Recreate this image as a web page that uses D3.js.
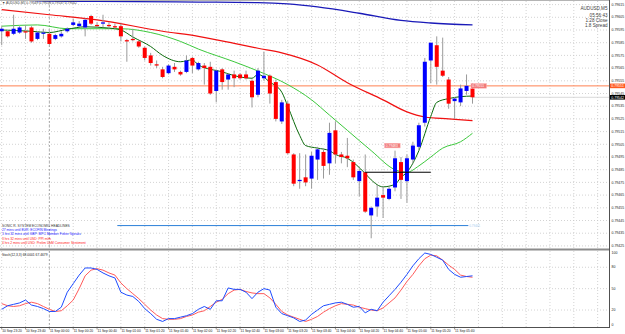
<!DOCTYPE html>
<html><head><meta charset="utf-8">
<script src="https://cdn.jsdelivr.net/npm/d3@7"></script>
<style>html,body{margin:0;padding:0;background:#fff;overflow:hidden}svg{display:block}text{font-family:"Liberation Sans",Arial,sans-serif}</style>
</head><body><svg id="c" width="625" height="334"></svg>
<script>
// ---------- data ----------
const opens  = [0.79594,0.79594,0.79592,0.79593,0.79594,0.79597,0.79588,0.79592,0.79592,0.79588,0.79590,0.79594,0.79599,0.79598,0.79597,0.79606,0.79599,0.79600,0.79599,0.79598,0.79598,0.79587,0.79588,0.79586,0.79581,0.79575,0.79568,0.79564,0.79561,0.79566,0.79562,0.79562,0.79573,0.79564,0.79567,0.79566,0.79547,0.79564,0.79556,0.79560,0.79560,0.79560,0.79555,0.79544,0.79557,0.79559,0.79554,0.79523,0.79537,0.79497,0.79476,0.79479,0.79478,0.79493,0.79499,0.79490,0.79516,0.79497,0.79496,0.79491,0.79476,0.79483,0.79449,0.79456,0.79465,0.79462,0.79471,0.79491,0.79476,0.79493,0.79503,0.79522,0.79571,0.79583,0.79563,0.79556,0.79539,0.79538,0.79547,0.79549];
const highs  = [0.79598,0.79595,0.79607,0.79598,0.79599,0.79598,0.79594,0.79596,0.79594,0.79592,0.79594,0.79597,0.79604,0.79602,0.79604,0.79607,0.79601,0.79607,0.79601,0.79600,0.79600,0.79588,0.79596,0.79587,0.79582,0.79577,0.79571,0.79566,0.79568,0.79569,0.79563,0.79575,0.79574,0.79570,0.79569,0.79570,0.79564,0.79565,0.79561,0.79563,0.79561,0.79563,0.79556,0.79565,0.79578,0.79560,0.79556,0.79540,0.79539,0.79498,0.79498,0.79497,0.79499,0.79503,0.79502,0.79522,0.79523,0.79499,0.79510,0.79493,0.79486,0.79497,0.79456,0.79473,0.79472,0.79472,0.79500,0.79495,0.79497,0.79507,0.79522,0.79573,0.79585,0.79590,0.79589,0.79558,0.79542,0.79552,0.79560,0.79553];
const lows   = [0.79583,0.79589,0.79591,0.79592,0.79588,0.79585,0.79587,0.79588,0.79583,0.79587,0.79589,0.79593,0.79598,0.79597,0.79590,0.79599,0.79597,0.79597,0.79596,0.79596,0.79586,0.79570,0.79586,0.79581,0.79571,0.79567,0.79565,0.79557,0.79560,0.79562,0.79559,0.79561,0.79561,0.79563,0.79552,0.79544,0.79538,0.79548,0.79548,0.79550,0.79556,0.79556,0.79534,0.79542,0.79555,0.79537,0.79523,0.79521,0.79497,0.79472,0.79470,0.79472,0.79470,0.79477,0.79478,0.79481,0.79490,0.79490,0.79487,0.79477,0.79464,0.79451,0.79431,0.79448,0.79447,0.79461,0.79468,0.79462,0.79459,0.79490,0.79500,0.79519,0.79553,0.79552,0.79558,0.79533,0.79525,0.79535,0.79544,0.79537];
const closes = [0.79596,0.79590,0.79596,0.79597,0.79593,0.79586,0.79593,0.79593,0.79584,0.79591,0.79592,0.79596,0.79601,0.79600,0.79603,0.79600,0.79598,0.79601,0.79598,0.79597,0.79590,0.79586,0.79587,0.79582,0.79573,0.79569,0.79567,0.79558,0.79567,0.79564,0.79560,0.79571,0.79567,0.79569,0.79565,0.79545,0.79563,0.79554,0.79560,0.79557,0.79557,0.79557,0.79542,0.79563,0.79559,0.79545,0.79525,0.79538,0.79498,0.79474,0.79477,0.79475,0.79496,0.79501,0.79488,0.79514,0.79497,0.79495,0.79494,0.79479,0.79484,0.79452,0.79455,0.79463,0.79463,0.79470,0.79494,0.79477,0.79494,0.79504,0.79520,0.79570,0.79585,0.79566,0.79559,0.79537,0.79541,0.79549,0.79551,0.79542];

const blueMaBars  = [0,6,16,33,43,48,53,60,67,72,79];
const blueMaVals  = [0.79622,0.79618,0.796175,0.79617,0.796166,0.796156,0.796132,0.796082,0.796025,0.796005,0.79599];
const redMaBars   = [0,8,16,27,33,39,43,47,53,58,64,68,71,75,79];
const redMaVals   = [0.79611,0.79607,0.79603,0.79594,0.79590,0.795845,0.795806,0.79577,0.795675,0.795535,0.7954,0.795305,0.795265,0.79525,0.795236];
const limeMaBars  = [0,6,11,20,25,30,33,39,43,48,52,55,58,62,66,68,70,72,74,77,79];
const limeMaVals  = [0.79598,0.79599,0.79596,0.79596,0.79593,0.79586,0.7958,0.7957,0.795627,0.79552,0.7954,0.79528,0.79516,0.795,0.79485,0.79483,0.79488,0.79495,0.79502,0.79507,0.795137];
const darkMaBars  = [0,5,8,11,14,18,20,22,25,27,30,32,33,37,40,42,43,45,47,48,50,51,53,55,56,58,61,62,64,66,67,68,70,72,73,75,77,79];
const darkMaVals  = [0.79595,0.79594,0.79593,0.795956,0.795975,0.795965,0.79595,0.795895,0.79582,0.79575,0.7957,0.795715,0.795675,0.79562,0.79558,0.79557,0.7956,0.79554,0.79546,0.79535,0.79512,0.79504,0.79502,0.795,0.79497,0.79494,0.79482,0.79477,0.794715,0.794735,0.79479,0.79483,0.795,0.79527,0.79538,0.79541,0.795425,0.79543];

const stochK = [21,26,28,30,34,27,25,22,18,18,24,45,57,69,79,79,77,72,68,65,45,41,39,32,22,15,7,4,8,8,10,12,15,21,25,21,33,33,51,49,49,45,36,45,50,48,24,15,12,9,4,6,14,20,26,28,30,31,28,24,25,16,21,19,31,40,49,59,70,82,92,100,98,94,90,77,70,66,67,68];
const stochD = [29,26,25,26,29,31,29,25,21,18,19,26,34,50,68,76,78,76,72,69,58,50,43,36,28,20,13,8,7,7,8,11,13,17,19,25,31,35,43,48,49,46,44,43,43,37,28,18,13,10,7,4,7,11,17,22,26,29,28,27,24,22,20,19,23,30,37,48,60,70,82,92,97,96,90,83,77,69,67,66];
const stochTicks = [100,80,50,20,0];

const priceTicks = [0.79615,0.79605,0.79595,0.79585,0.79575,0.79565,0.79555,0.79545,0.79535,0.79525,0.79515,0.79505,0.79495,0.79485,0.79475,0.79465,0.79455,0.79445,0.79435,0.79425];
const timeLabels = ["10 Sep 23:20","10 Sep 23:40","11 Sep 00:00","11 Sep 00:20","11 Sep 00:40","11 Sep 01:00","11 Sep 01:20","11 Sep 01:40","11 Sep 02:00","11 Sep 02:20","11 Sep 02:40","11 Sep 03:00","11 Sep 03:20","11 Sep 03:40","11 Sep 04:00","11 Sep 04:20","11 Sep 04:40","11 Sep 05:00","11 Sep 05:20","11 Sep 05:40"];
const timeLabelBars = [0,4,8,12,16,20,24,28,32,36,40,44,48,52,56,60,64,68,72,76];
const daySeparatorBar = 8;

const orangeLinePrice = 0.79551;
const bidPrice = 0.79542;
const blackLine = {price:0.79483, from:61, to:72, label:"0.79483", labelBar:65.6, labelPrice:0.79504};
const blueLine  = {price:0.79441, from:19.4, to:78.3, label:"0.79441"};
const headlines = [
  {t:"SONIC R. SYSTEM ECONOMIC HEADLINES", c:"#333333"},
  {t:"27 mins until EUR: ECOFIN Meetings", c:"#1a1aff"},
  {t:"1 hrs 32 mins until GBP: MPC Member Fisher Speaks", c:"#1a1aff"},
  {t:"3 hrs 32 mins until USD: PPI m/m", c:"#ff1a1a"},
  {t:"4 hrs 2 mins until USD: Prelim UoM Consumer Sentiment", c:"#ff1a1a"}
];
const infoLines = ["AUDUSD,M5","05:56:43","1:28 Close","1.8 Spread"];
const headerText = "\u25BC AUDUSD,M5  0.79549 0.79553 0.79537 0.79542";
const stochText = "Stoch(12,3,3) 68.0001 67.4679";

// ---------- layout ----------
const AX = 609, MAIN_T = 0, MAIN_B = 248, SUB_T = 251, SUB_B = 327;
const svg = d3.select("#c");
const x = d3.scaleLinear().domain([0,79]).range([1.7,472.5]);
const y = d3.scaleLinear().domain([0.7961862,0.7942335]).range([MAIN_T,MAIN_B]);
const ys = d3.scaleLinear().domain([0,100]).range([324.3,253]);

const defs = svg.append("defs");
defs.append("clipPath").attr("id","cm").append("rect").attr("x",0).attr("y",1).attr("width",AX).attr("height",MAIN_B-1);
defs.append("clipPath").attr("id","cs").append("rect").attr("x",0).attr("y",SUB_T).attr("width",AX).attr("height",SUB_B-SUB_T);

svg.append("rect").attr("width",625).attr("height",334).attr("fill","#fff");

// grid
const gridBars = d3.range(0,104,4).filter(i => x(i) < AX-1);
const grid = svg.append("g").attr("stroke","#c8c8c8").attr("stroke-width",0.8).attr("stroke-dasharray","1,2");
gridBars.forEach(i=>{
  grid.append("line").attr("x1",x(i)).attr("x2",x(i)).attr("y1",1).attr("y2",MAIN_B);
  grid.append("line").attr("x1",x(i)).attr("x2",x(i)).attr("y1",SUB_T).attr("y2",SUB_B);
});
priceTicks.forEach(p=>grid.append("line").attr("x1",0).attr("x2",AX).attr("y1",y(p)).attr("y2",y(p)));
[80,50,20].forEach(v=>grid.append("line").attr("x1",0).attr("x2",AX).attr("y1",ys(v)).attr("y2",ys(v)));

// day separator
[[1,MAIN_B],[SUB_T,SUB_B]].forEach(r=>svg.append("line").attr("x1",x(daySeparatorBar)).attr("x2",x(daySeparatorBar))
  .attr("y1",r[0]).attr("y2",r[1]).attr("stroke","#9a9a9a").attr("stroke-width",0.8).attr("stroke-dasharray","2,2"));

// orange line & bid line
svg.append("line").attr("x1",0).attr("x2",AX).attr("y1",y(orangeLinePrice)).attr("y2",y(orangeLinePrice)).attr("stroke","#ff8050").attr("stroke-width",1);
svg.append("line").attr("x1",x(79)).attr("x2",AX).attr("y1",y(bidPrice)).attr("y2",y(bidPrice)).attr("stroke","#d0d0d0").attr("stroke-width",0.8);

// blue & black lines
svg.append("line").attr("x1",x(blueLine.from)).attr("x2",x(blueLine.to)).attr("y1",y(blueLine.price)).attr("y2",y(blueLine.price)).attr("stroke","#2b7fd8").attr("stroke-width",1);
svg.append("text").attr("x",x(blueLine.to)+1).attr("y",y(blueLine.price)+1.1).attr("font-size",3).attr("fill","#a8cdf0").text(blueLine.label);

// MAs
const mg = svg.append("g").attr("clip-path","url(#cm)").attr("fill","none");
const line = d3.line().x(d=>x(d[0])).y(d=>y(d[1])).curve(d3.curveMonotoneX);
const ma = (bars,vals,color,w)=>mg.append("path").attr("d",line(bars.map((b,k)=>[b,vals[k]]))).attr("stroke",color).attr("stroke-width",w);
ma(blueMaBars,blueMaVals,"#1a1ab8",1.3);
ma(redMaBars,redMaVals,"#f01010",1.2);
ma(limeMaBars,limeMaVals,"#3cc83c",1);

// candles
const cg = svg.append("g").attr("clip-path","url(#cm)");
opens.forEach((o,i)=>{
  const c = closes[i], cx = x(i);
  cg.append("line").attr("x1",cx).attr("x2",cx).attr("y1",y(highs[i])).attr("y2",y(lows[i])).attr("stroke","#9a9a9a").attr("stroke-width",1);
  const top = y(Math.max(o,c)), bot = y(Math.min(o,c));
  cg.append("rect").attr("x",cx-2).attr("width",4).attr("y",top).attr("height",Math.max(1,bot-top))
    .attr("fill", c>=o ? "#0000ff" : "#ff0000");
});
ma(darkMaBars,darkMaVals,"#0a6a0a",1);

svg.append("line").attr("x1",x(blackLine.from)).attr("x2",x(blackLine.to)).attr("y1",y(blackLine.price)).attr("y2",y(blackLine.price)).attr("stroke","#000").attr("stroke-width",1);

// annotation boxes
function tag(xl, yc, txt, fill){
  svg.append("rect").attr("x",xl).attr("y",yc-2.3).attr("width",15.5).attr("height",4.6).attr("fill",fill).attr("stroke","#ffb0b0").attr("stroke-width",0.5);
  svg.append("text").attr("x",xl+1.2).attr("y",yc+1.2).attr("font-size",3.3).attr("fill","#fff").text(txt);
}
tag(x(blackLine.labelBar)-8, y(blackLine.labelPrice), blackLine.label, "#f07a7a");
tag(x(79)-1.5, y(orangeLinePrice), "0.79551", "#f07a7a");

// header texts
svg.append("text").attr("x",2).attr("y",4).attr("font-size",3.3).attr("fill","#404040").text(headerText);
infoLines.forEach((t,k)=>svg.append("text").attr("x",607.5).attr("y",[10,16.5,21.8,27][k]).attr("text-anchor","end").attr("font-size",4.6).attr("fill","#404040").text(t));
headlines.forEach((h,k)=>svg.append("text").attr("x",2).attr("y",226.8+k*4.3).attr("font-size",3.3).attr("fill",h.c).text(h.t));

// frames
svg.append("line").attr("x1",0).attr("x2",AX).attr("y1",0.5).attr("y2",0.5).attr("stroke","#b4b4b4");
svg.append("rect").attr("x",0).attr("y",MAIN_B+0.5).attr("width",AX).attr("height",2).attr("fill","#8c8c8c");
svg.append("line").attr("x1",0).attr("x2",AX+1).attr("y1",SUB_B+0.5).attr("y2",SUB_B+0.5).attr("stroke","#505050");
svg.append("line").attr("x1",AX+0.5).attr("x2",AX+0.5).attr("y1",0).attr("y2",SUB_B+1).attr("stroke","#505050");

// price axis
priceTicks.forEach(p=>svg.append("text").attr("x",611.5).attr("y",y(p)+1.2).attr("font-size",3.5).attr("fill","#222").text(p.toFixed(5)));
function axTag(p, fill){
  svg.append("rect").attr("x",610).attr("y",y(p)-2.3).attr("width",15).attr("height",4.6).attr("fill",fill);
  svg.append("text").attr("x",611.3).attr("y",y(p)+1.2).attr("font-size",3.5).attr("fill","#fff").text(p.toFixed(5));
}
axTag(orangeLinePrice,"#ff5a20");
axTag(bidPrice,"#000");

// stochastic
const sg = svg.append("g").attr("clip-path","url(#cs)").attr("fill","none");
const sl = d3.line().x((d,i)=>x(i)).y(d=>ys(d));
sg.append("path").attr("d",sl(stochD)).attr("stroke","#ff5a5a").attr("stroke-width",1);
sg.append("path").attr("d",sl(stochK)).attr("stroke","#1e4cff").attr("stroke-width",1);
svg.append("text").attr("x",2).attr("y",255.5).attr("font-size",3.3).attr("fill","#222").text(stochText);
stochTicks.forEach(v=>svg.append("text").attr("x",611.5).attr("y",ys(v)+1.2).attr("font-size",3.5).attr("fill","#222").text(v));

// time axis
timeLabelBars.forEach((b,k)=>{
  svg.append("line").attr("x1",x(b)).attr("x2",x(b)).attr("y1",SUB_B).attr("y2",SUB_B+2.5).attr("stroke","#505050").attr("stroke-width",0.6);
  svg.append("text").attr("x",x(b)+0.5).attr("y",332.3).attr("font-size",3.3).attr("fill","#222").text(timeLabels[k]);
});
</script></body></html>
